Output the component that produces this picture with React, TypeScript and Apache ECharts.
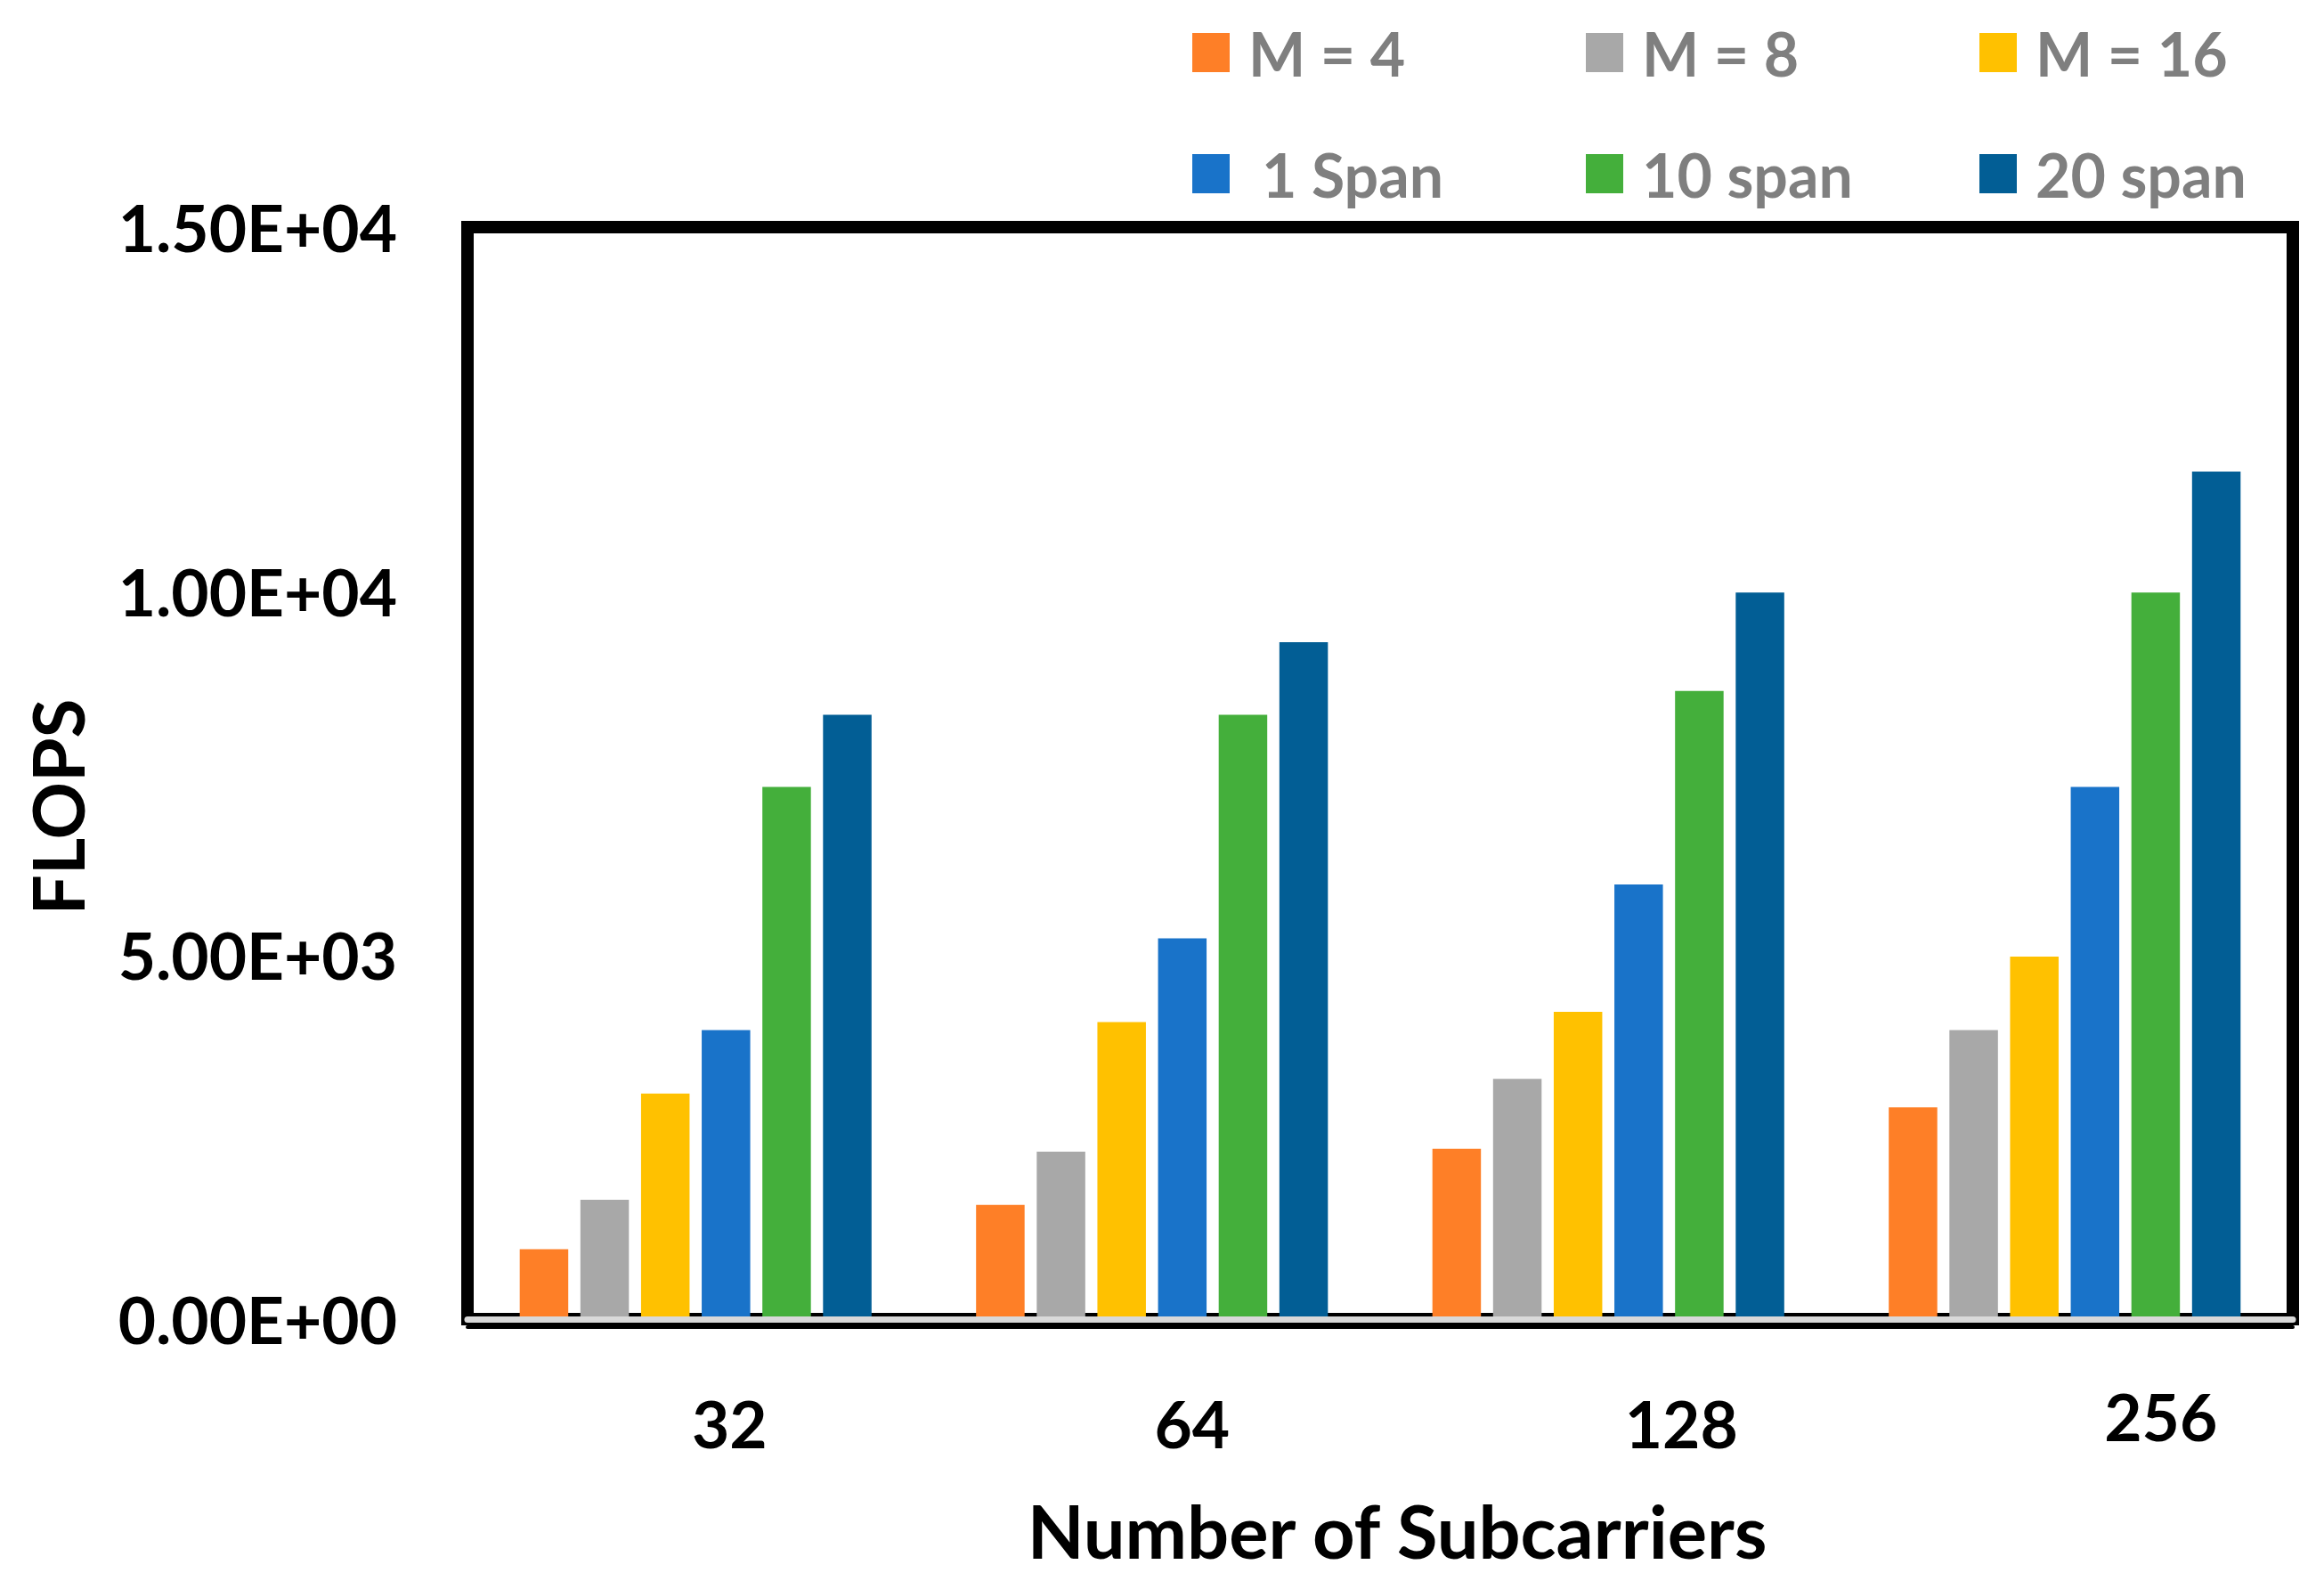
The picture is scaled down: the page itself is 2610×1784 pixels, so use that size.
import React, { useEffect, useRef } from "react";
import * as echarts from "echarts";

const categories = ["32", "64", "128", "256"];
const seriesNames = ["M = 4", "M = 8", "M = 16", "1 Span", "10 span", "20 span"];
const m4 = [960, 1570, 2340, 2910];
const m8 = [1640, 2300, 3300, 3970];
const m16 = [3100, 4080, 4220, 4980];
const span1 = [3970, 5230, 5970, 7310];
const span10 = [7310, 8300, 8630, 9980];
const span20 = [8300, 9300, 9980, 11640];
const seriesValues = [m4, m8, m16, span1, span10, span20];
const colors = ["#FE7F27", "#A8A8A8", "#FFC100", "#1973C9", "#44AF3B", "#025E95"];
const yMin = 0;
const yMax = 15000;
const yInterval = 5000;

const FONT = "Lato, 'Open Sans', 'DejaVu Sans', sans-serif";

function fmtExp(v: number): string {
  const s = v.toExponential(2);
  const [m, e] = s.split("e");
  const sign = e[0] === "-" ? "-" : "+";
  const d = e.replace(/^[+-]/, "").padStart(2, "0");
  return `${m}E${sign}${d}`;
}

const labelBase = {
  fontSize: 73,
  fontWeight: "bold" as const,
  fontFamily: FONT,
  color: "#000",
  lineHeight: 80,
};

export default function App() {
  const ref = useRef<HTMLDivElement>(null);
  useEffect(() => {
    if (!ref.current) return;
    const chart = echarts.init(ref.current, undefined, { renderer: "svg" });
    const option: any = {
      animation: false,
      backgroundColor: "#fff",
      legend: {
        left: 1339,
        top: 1,
        width: 1320,
        padding: 0,
        itemGap: 20,
        itemWidth: 42,
        itemHeight: 44,
        icon: "rect",
        textStyle: {
          color: "#7F7F7F",
          fontSize: 68,
          fontWeight: "bold",
          fontFamily: FONT,
          lineHeight: 116,
          width: 359,
          padding: [0, 0, 0, 16],
        },
        data: seriesNames.map((n) =>
          n === "1 Span"
            ? { name: n, textStyle: { padding: [0, 0, 0, 31], width: 344 } }
            : { name: n }
        ),
      },
      grid: {
        left: 525,
        right: 35,
        top: 255,
        bottom: 303,
        show: true,
        borderColor: "#000",
        borderWidth: 14,
        backgroundColor: "transparent",
      },
      xAxis: [
        {
          type: "category",
          data: categories,
          position: "bottom",
          offset: 3.5,
          z: 3,
          axisLine: { show: true, lineStyle: { color: "#D9D9D9", width: 7 } },
          axisTick: { show: false },
          splitLine: { show: false },
          axisLabel: {
            interval: 0,
            margin: 65.5,
            ...labelBase,
            formatter: (v: string, i: number) => `{c${i}|${v}}`,
            rich: {
              c0: { ...labelBase, padding: [16, 0, 0, 76] },
              c1: { ...labelBase, padding: [16, 0, 0, 90] },
              c2: { ...labelBase, padding: [16, 0, 0, 164] },
              c3: { ...labelBase, padding: [0, 0, 0, 216] },
            },
          },
          name: "Number of Subcarriers",
          nameLocation: "middle",
          nameGap: 188,
          nameTextStyle: {
            fontSize: 83,
            fontWeight: "bold",
            fontFamily: FONT,
            color: "#000",
            lineHeight: 90,
            padding: [0, 0, 0, 38],
          },
        },
        {
          type: "category",
          data: categories,
          position: "bottom",
          offset: 9,
          z: 3,
          axisLine: { show: true, lineStyle: { color: "#000", width: 4 } },
          axisTick: { show: false },
          axisLabel: { show: false },
          splitLine: { show: false },
        },
      ],
      yAxis: {
        type: "value",
        min: yMin,
        max: yMax,
        interval: yInterval,
        axisLine: { show: false },
        axisTick: { show: false },
        splitLine: { show: false },
        axisLabel: {
          margin: 79,
          fontSize: 73,
          fontWeight: "bold",
          fontFamily: FONT,
          color: "#000",
          formatter: (v: number) => fmtExp(v),
        },
        name: "FLOPS",
        nameLocation: "middle",
        nameRotate: 90,
        nameGap: 421,
        nameTextStyle: {
          fontSize: 80,
          fontWeight: "bold",
          fontFamily: FONT,
          color: "#000",
          lineHeight: 80,
          padding: [0, 76, 0, 0],
        },
      },
      series: seriesNames.map((name, i) => ({
        name,
        type: "bar",
        xAxisIndex: 0,
        data: seriesValues[i],
        barWidth: 54.5,
        barGap: "25%",
        itemStyle: { color: colors[i] },
      })),
    };
    chart.setOption(option);
    return () => chart.dispose();
  }, []);
  return (
    <div
      ref={ref}
      style={{ position: "absolute", left: 0, top: 0, width: 2610, height: 1784 }}
    />
  );
}
